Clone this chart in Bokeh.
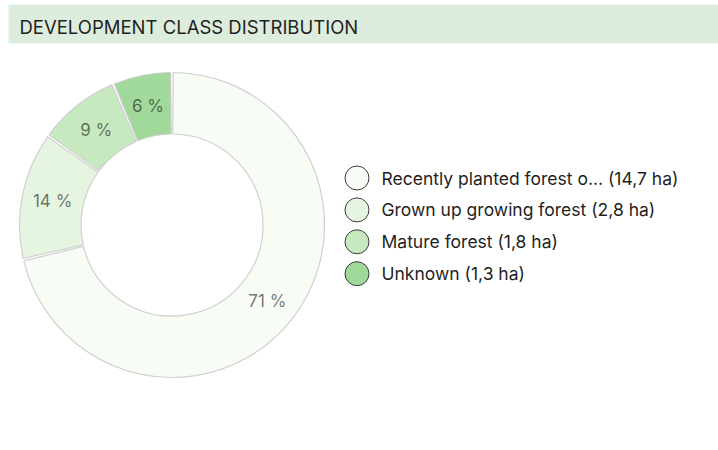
import numpy as np
from bokeh.plotting import figure
from bokeh.models import Range1d
from bokeh.core.properties import value
from bokeh.embed import file_html
from bokeh.resources import INLINE

title = "DEVELOPMENT CLASS DISTRIBUTION"
categories = ["Recently planted forest o...", "Grown up growing forest", "Mature forest", "Unknown"]
areas_ha = [14.7, 2.8, 1.8, 1.3]
colors = ["#f7fcf5", "#e5f5e0", "#c7e9c0", "#a1d99b"]

W, H = 718, 450
FONT = "Inter"


def Y(sy):
    # screen y (px from top) -> data y
    return H - sy


def X(sx):
    return sx


p = figure(width=W, height=H, output_backend="svg", toolbar_location=None,
           x_range=Range1d(0, W), y_range=Range1d(0, H), min_border=0,
           outline_line_color=None)
p.axis.visible = False
p.xgrid.visible = False
p.ygrid.visible = False
p.background_fill_color = "white"
p.border_fill_color = "white"

# title band
p.quad(left=X(8), right=W, top=Y(4), bottom=Y(43), fill_color="#ddeddd", line_color=None)
p.text(x=[X(19)], y=[Y(26)], text=[title], text_font=value(FONT), text_font_size="18.5px",
       text_color="#1f1f1f", text_baseline="middle", text_align="left")

# donut
vals = np.array(areas_ha, dtype=float)
frac = vals / vals.sum()
cum = np.concatenate([[0.0], np.cumsum(frac)])
cx, cy = X(171.5), Y(224.5)
r_in, r_out = 91.0, 152.5
pad = 0.0085
starts = np.pi / 2 - cum[:-1] * 2 * np.pi - pad
ends = np.pi / 2 - cum[1:] * 2 * np.pi + pad
p.annular_wedge(x=cx, y=cy, inner_radius=r_in, outer_radius=r_out,
                start_angle=starts, end_angle=ends, direction="clock",
                fill_color=colors, line_color="#d0d0d0", line_width=1.2)

mid = np.pi / 2 - (cum[:-1] + cum[1:]) / 2 * 2 * np.pi
r_lab = (r_in + r_out) / 2
pct = [f"{int(round(f * 100))} %" for f in frac]
p.text(x=cx + r_lab * np.cos(mid), y=cy + r_lab * np.sin(mid), text=pct,
       text_font=value(FONT), text_font_size="17px", text_color="black", text_alpha=0.55,
       text_align="center", text_baseline="middle")

# legend
rows = [Y(177.5 + 31.9 * i) for i in range(len(categories))]
p.scatter(x=[X(356.5)] * len(categories), y=rows, size=24, marker="circle",
          fill_color=colors, line_color="#3a3a3a", line_width=1)
labels = [f"{c} ({str(a).replace('.', ',')} ha)" for c, a in zip(categories, areas_ha)]
p.text(x=[X(381)] * len(categories), y=rows, text=labels, text_font=value(FONT),
       text_font_size="17.5px", text_color="#1f1f1f", text_align="left", text_baseline="middle")

open("out.html", "w").write(file_html(p, INLINE))
